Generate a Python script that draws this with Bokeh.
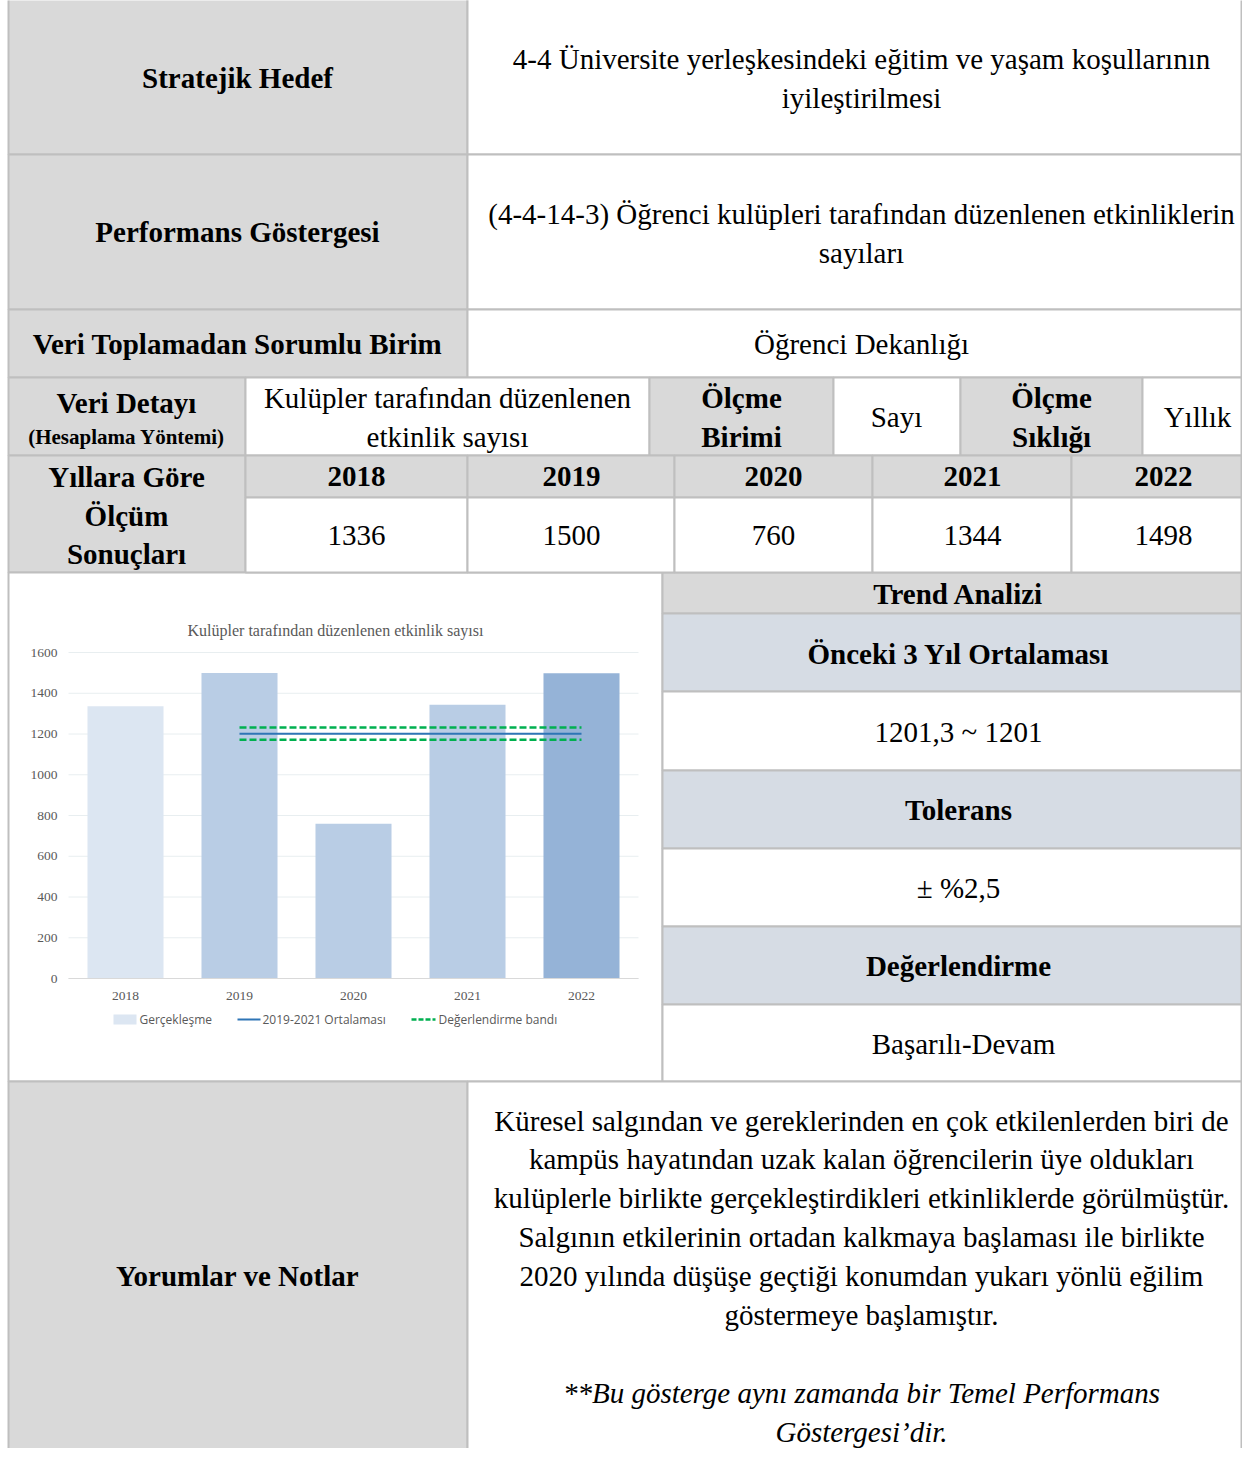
from bokeh.plotting import figure
from bokeh.models import Range1d
from bokeh.embed import file_html
from bokeh.resources import INLINE
from bokeh.core.properties import value

# ---------------- data ----------------
years = [2018, 2019, 2020, 2021, 2022]
counts = [1336, 1500, 760, 1344, 1498]
y_ticks = [0, 200, 400, 600, 800, 1000, 1200, 1400, 1600]
avg_years = [2019, 2020, 2021]
tolerance = 0.025
avg_value = sum(c for y, c in zip(years, counts) if y in avg_years) / len(avg_years)
band_values = [avg_value * (1 + tolerance), avg_value * (1 - tolerance)]

chart_title = "Kulüpler tarafından düzenlenen etkinlik sayısı"
legend_labels = ["Gerçekleşme", "2019-2021 Ortalaması", "Değerlendirme bandı"]

goal_lines = ["4-4 Üniversite yerleşkesindeki eğitim ve yaşam koşullarının", "iyileştirilmesi"]
indicator_lines = ["(4-4-14-3) Öğrenci kulüpleri tarafından düzenlenen etkinliklerin", "sayıları"]
unit_text = "Öğrenci Dekanlığı"
detail_lines = ["Kulüpler tarafından düzenlenen", "etkinlik sayısı"]
measure_unit = "Sayı"
measure_freq = "Yıllık"
trend_avg_text = "1201,3 ~ 1201"
tolerance_text = "± %2,5"
evaluation_text = "Başarılı-Devam"
comment_lines = [
    "Küresel salgından ve gereklerinden en çok etkilenlerden biri de",
    "kampüs hayatından uzak kalan öğrencilerin üye oldukları",
    "kulüplerle birlikte gerçekleştirdikleri etkinliklerde görülmüştür.",
    "Salgının etkilerinin ortadan kalkmaya başlaması ile birlikte",
    "2020 yılında düşüşe geçtiği konumdan yukarı yönlü eğilim",
    "göstermeye başlamıştır.",
]
note_lines = ["**Bu gösterge aynı zamanda bir Temel Performans", "Göstergesi’dir."]

# ---------------- styles / layout ----------------
GRAY = "#d9d9d9"
BLUE = "#d6dce4"
WHITE = "#ffffff"
BORDER = "#bfbfbf"
SERIF = "Liberation Serif"

W, H = 1242, 1448
X0, Y0 = 0, 0          # page coordinates of the figure's top-left corner
R = X0 + W - 1         # right table edge (kept inside the canvas)

p = figure(width=W, height=H, output_backend="svg", toolbar_location=None,
           x_range=Range1d(X0, X0 + W), y_range=Range1d(Y0 + H, Y0),
           x_axis_type=None, y_axis_type=None, min_border=0)
p.outline_line_color = None
p.grid.visible = False
p.background_fill_color = WHITE
p.border_fill_color = WHITE

# chart scales (placed inside the chart cell)
px_per_year = 114.0
x_first = 125.0
p.extra_x_ranges = {"cx": Range1d(years[0] - (x_first - X0) / px_per_year,
                                  years[0] + (X0 + W - x_first) / px_per_year)}
y0_px, y1600_px = 978.0, 652.0
ppu = (y0_px - y1600_px) / 1600.0
p.extra_y_ranges = {"cy": Range1d(-(Y0 + H - y0_px) / ppu, (y0_px - Y0) / ppu)}

# ---------------- table cells ----------------
cells = [
    (8, 467, -5, 154, GRAY), (467, R, -5, 154, WHITE),
    (8, 467, 154, 309, GRAY), (467, R, 154, 309, WHITE),
    (8, 467, 309, 377, GRAY), (467, R, 309, 377, WHITE),
    (8, 245, 377, 455, GRAY), (245, 649, 377, 455, WHITE), (649, 833, 377, 455, GRAY),
    (833, 960, 377, 455, WHITE), (960, 1142, 377, 455, GRAY), (1142, R, 377, 455, WHITE),
    (8, 245, 455, 572, GRAY),
    (8, 662, 572, 1081, WHITE),
    (662, R, 572, 613, GRAY), (662, R, 613, 691, BLUE), (662, R, 691, 770, WHITE),
    (662, R, 770, 848, BLUE), (662, R, 848, 926, WHITE), (662, R, 926, 1004, BLUE),
    (662, R, 1004, 1081, WHITE),
    (8, 467, 1081, 1470, GRAY), (467, R, 1081, 1470, WHITE),
]
year_cols = [245, 467, 674, 872, 1071, R]
for i in range(5):
    cells.append((year_cols[i], year_cols[i + 1], 455, 497, GRAY))
    cells.append((year_cols[i], year_cols[i + 1], 497, 572, WHITE))

p.quad(left=[c[0] for c in cells], right=[c[1] for c in cells],
       top=[c[2] for c in cells], bottom=[c[3] for c in cells],
       fill_color=[c[4] for c in cells], line_color=BORDER, line_width=2)


def txt(x, y, s, size=29, bold=False, italic=False, color="#000000",
        align="center", font=SERIF, xr="default", yr="default"):
    style = "bold" if bold else ("italic" if italic else "normal")
    p.text(x=[x], y=[y], text=[s], text_font=value(font), text_font_size=f"{size}px",
           text_font_style=style, text_color=color, text_align=align,
           text_baseline="middle", x_range_name=xr, y_range_name=yr)


# left headers
txt(237, 77, "Stratejik Hedef", bold=True)
txt(237, 231, "Performans Göstergesi", bold=True)
txt(237, 343, "Veri Toplamadan Sorumlu Birim", bold=True)
txt(126, 402, "Veri Detayı", bold=True)
txt(126, 436, "(Hesaplama Yöntemi)", size=21, bold=True)
txt(126, 476, "Yıllara Göre", bold=True)
txt(126, 515, "Ölçüm", bold=True)
txt(126, 553, "Sonuçları", bold=True)
txt(237, 1275, "Yorumlar ve Notlar", bold=True)

# right contents
for i, s in enumerate(goal_lines):
    txt(861, 58 + 39 * i, s)
for i, s in enumerate(indicator_lines):
    txt(861, 213 + 39 * i, s)
txt(861, 343, unit_text)
for i, s in enumerate(detail_lines):
    txt(447, 397 + 39 * i, s)
txt(741, 397, "Ölçme", bold=True)
txt(741, 436, "Birimi", bold=True)
txt(896, 416, measure_unit)
txt(1051, 397, "Ölçme", bold=True)
txt(1051, 436, "Sıklığı", bold=True)
txt(1197, 416, measure_freq)

col_centers = [356, 571, 773, 972, 1163]
for cx, yv, cv in zip(col_centers, years, counts):
    txt(cx, 476, str(yv), bold=True)
    txt(cx, 535, str(cv))

# trend panel
txt(958, 593, "Trend Analizi", bold=True)
txt(958, 653, "Önceki 3 Yıl Ortalaması", bold=True)
txt(958, 731, trend_avg_text)
txt(958, 809, "Tolerans", bold=True)
txt(958, 887, tolerance_text)
txt(958, 965, "Değerlendirme", bold=True)
txt(963, 1043, evaluation_text)

# comments
for i, s in enumerate(comment_lines):
    txt(861, 1120 + 38.9 * i, s)
for i, s in enumerate(note_lines):
    txt(861, 1392 + 39 * i, s, italic=True)

# ---------------- chart ----------------
CH_TXT = "#595959"
bar_colors = ["#dce6f2", "#b9cde5", "#b9cde5", "#b9cde5", "#95b3d7"]

# gridlines
p.segment(x0=[years[0] - 0.5] * len(y_ticks), x1=[years[-1] + 0.5] * len(y_ticks),
          y0=y_ticks, y1=y_ticks, line_color="#e8eef0", line_width=1,
          x_range_name="cx", y_range_name="cy")
# bars
p.vbar(x=years, top=counts, bottom=0, width=0.667, fill_color=bar_colors,
       line_color=None, x_range_name="cx", y_range_name="cy")
# baseline
p.segment(x0=[years[0] - 0.5], x1=[years[-1] + 0.5], y0=[0], y1=[0],
          line_color="#d9d9d9", line_width=1.2, x_range_name="cx", y_range_name="cy")
# average line
p.segment(x0=[avg_years[0]], x1=[years[-1]], y0=[avg_value], y1=[avg_value],
          line_color="#2e75b6", line_width=2, x_range_name="cx", y_range_name="cy")
# evaluation band
p.segment(x0=[avg_years[0]] * 2, x1=[years[-1]] * 2, y0=band_values, y1=band_values,
          line_color="#00b050", line_width=2.5, line_dash="7 3",
          x_range_name="cx", y_range_name="cy")

# y tick labels
p.text(x=[57] * len(y_ticks), y=y_ticks, text=[str(t) for t in y_ticks],
       text_font=value(SERIF), text_font_size="13.5px", text_color=CH_TXT,
       text_align="right", text_baseline="middle", y_range_name="cy")
# x labels
p.text(x=years, y=[995] * len(years), text=[str(y) for y in years],
       text_font=value(SERIF), text_font_size="13.5px", text_color=CH_TXT,
       text_align="center", text_baseline="middle", x_range_name="cx")
# title
txt(335, 630, chart_title, size=16, color=CH_TXT)

# legend
LEG_FONT = "Open Sans"
p.quad(left=[113], right=[136], top=[1014], bottom=[1024], fill_color=bar_colors[0], line_color=None)
p.segment(x0=[237], x1=[260], y0=[1019], y1=[1019], line_color="#2e75b6", line_width=2)
p.segment(x0=[411], x1=[435], y0=[1019], y1=[1019], line_color="#00b050", line_width=2.5, line_dash="5 2")
for lx, lab in zip([139, 262, 438], legend_labels):
    txt(lx, 1019, lab, size=12, color=CH_TXT, align="left", font=LEG_FONT)

open("out.html", "w").write(file_html(p, INLINE))
